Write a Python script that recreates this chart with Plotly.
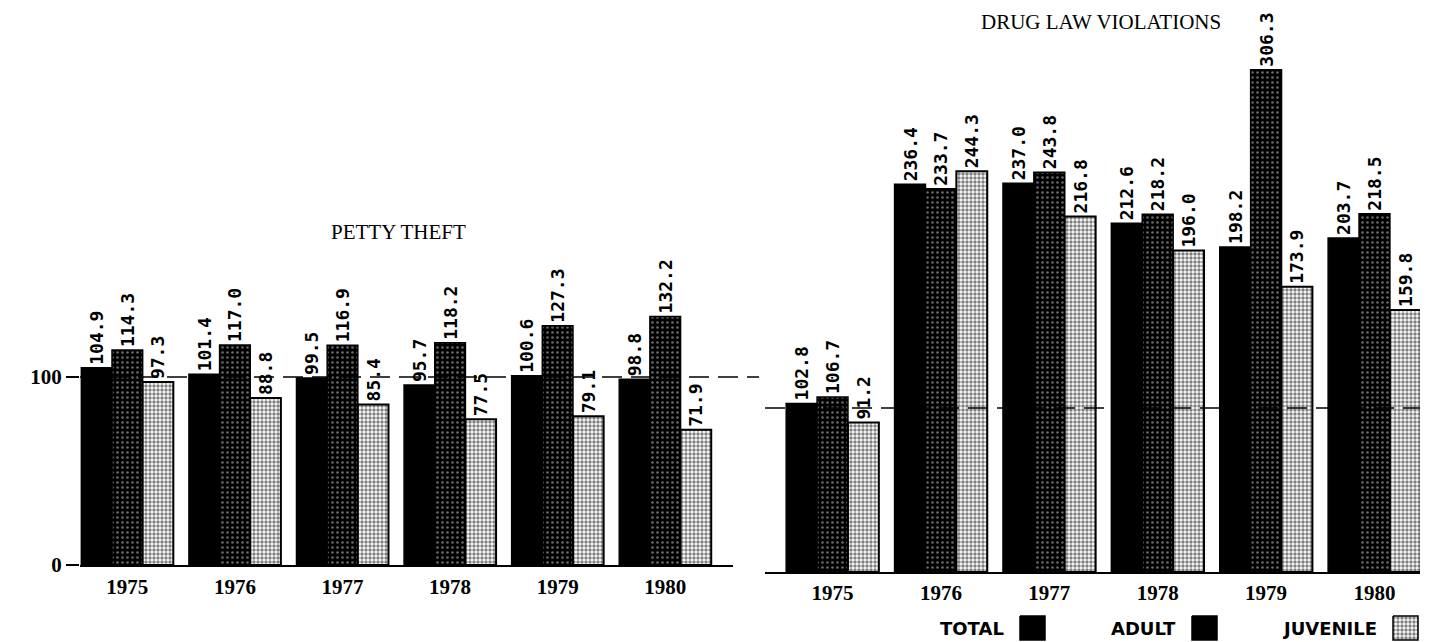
import plotly.graph_objects as go

# Index values by year (base = 100)
years = ["1975", "1976", "1977", "1978", "1979", "1980"]

petty_total = [104.9, 101.4, 99.5, 95.7, 100.6, 98.8]
petty_adult = [114.3, 117.0, 116.9, 118.2, 127.3, 132.2]
petty_juvenile = [97.3, 88.8, 85.4, 77.5, 79.1, 71.9]

drug_total = [102.8, 236.4, 237.0, 212.6, 198.2, 203.7]
drug_adult = [106.7, 233.7, 243.8, 218.2, 306.3, 218.5]
drug_juvenile = [91.2, 244.3, 216.8, 196.0, 173.9, 159.8]

series_names = ["TOTAL", "ADULT", "JUVENILE"]
panel_titles = ["PETTY THEFT", "DRUG LAW VIOLATIONS"]
y_ticks = [0, 100]
baseline_value = 100

W, H = 1437, 642
LABEL_FONT = dict(family="DejaVu Sans Mono", size=18, color="black", weight="bold")
SERIF_BOLD = dict(family="Liberation Serif", size=21, color="black", weight="bold")

juvenile_pattern = dict(shape=".", fgcolor="black", bgcolor="white", size=4, solidity=0.58)
styles = {
    "TOTAL": dict(color="black", line=dict(color="black", width=1.5)),
    "ADULT": dict(color="black", line=dict(color="black", width=1.5),
                  pattern=dict(shape=".", fgcolor="#cfcfcf", size=5, solidity=0.22)),
    "JUVENILE": dict(color="white", line=dict(color="black", width=2),
                     pattern=juvenile_pattern),
}

fig = go.Figure()

panels = [
    ("x", "y", [petty_total, petty_adult, petty_juvenile]),
    ("x2", "y2", [drug_total, drug_adult, drug_juvenile]),
]
for xa, ya, values in panels:
    for name, vals in zip(series_names, values):
        fig.add_trace(go.Bar(
            x=years, y=vals, name=name, xaxis=xa, yaxis=ya,
            offsetgroup=name, marker=styles[name],
            texttemplate="%{y:.1f}", textposition="outside", textangle=-90,
            textfont=LABEL_FONT, cliponaxis=False, constraintext="none",
            showlegend=False, hoverinfo="skip",
        ))

# Legend swatches drawn on a pixel-space axis pair covering the whole page
legend_items = [
    ("TOTAL", 1020, 1045),
    ("ADULT", 1192, 1217),
    ("JUVENILE", 1393, 1418),
]
sw_top, sw_bot = 616, 640
for name, x0, x1 in legend_items:
    kw = dict(fillcolor=styles[name]["color"])
    if name == "JUVENILE":
        kw["fillpattern"] = juvenile_pattern
    fig.add_trace(go.Scatter(
        x=[x0, x1, x1, x0, x0], y=[sw_top, sw_top, sw_bot, sw_bot, sw_top],
        mode="lines", fill="toself", line=dict(color="black", width=1.5),
        xaxis="x3", yaxis="y3", showlegend=False, hoverinfo="skip", **kw,
    ))

title_font = dict(family="Liberation Serif", size=21, color="black")
annotations = [
    dict(text=panel_titles[0], x=398 / W, y=1 - 232 / H, xref="paper", yref="paper",
         xanchor="center", yanchor="middle", showarrow=False, font=title_font),
    dict(text=panel_titles[1], x=1101 / W, y=1 - 22 / H, xref="paper", yref="paper",
         xanchor="center", yanchor="middle", showarrow=False, font=title_font),
]
for name, x0, _ in legend_items:
    annotations.append(dict(
        text=name, x=(x0 - 14) / W, y=1 - 628 / H, xref="paper", yref="paper",
        xanchor="right", yanchor="middle", showarrow=False,
        font=dict(family="DejaVu Sans", size=18, color="black", weight="bold"),
    ))

shapes = [
    dict(type="line", xref="x domain", yref="y", x0=0, x1=1.04,
         y0=baseline_value, y1=baseline_value, layer="above",
         line=dict(color="black", width=1.6, dash="20px,9px")),
    dict(type="line", xref="x2 domain", yref="y2", x0=0, x1=1,
         y0=baseline_value, y1=baseline_value, layer="above",
         line=dict(color="black", width=1.6, dash="20px,9px")),
]

fig.update_layout(
    width=W, height=H,
    margin=dict(l=0, r=0, t=0, b=0, autoexpand=False),
    paper_bgcolor="white", plot_bgcolor="rgba(0,0,0,0)",
    barmode="group", bargap=0.145, bargroupgap=0,
    annotations=annotations, shapes=shapes,
    xaxis=dict(domain=[80 / W, 733 / W], range=[-0.44, 5.63], anchor="y",
               showline=True, linecolor="black", linewidth=2, ticks="",
               showgrid=False, zeroline=False, tickfont=SERIF_BOLD,
               ticklabelstandoff=2, automargin=False, fixedrange=True),
    yaxis=dict(domain=[77 / H, 1], range=[0, 565 / 1.88], anchor="x",
               tickvals=y_ticks, ticktext=[str(v) for v in y_ticks],
               ticks="outside", ticklen=13, tickwidth=2, tickcolor="black",
               showline=False, showgrid=False, zeroline=False,
               tickfont=SERIF_BOLD, automargin=False, fixedrange=True),
    xaxis2=dict(domain=[765 / W, 1420 / W], range=[-0.623, 5.42], anchor="y2",
                showline=True, linecolor="black", linewidth=2, ticks="",
                showgrid=False, zeroline=False, tickfont=SERIF_BOLD,
                ticklabelstandoff=1, automargin=False, fixedrange=True),
    yaxis2=dict(domain=[70 / H, 1], range=[0, 572 / 1.64], anchor="x2",
                visible=False, automargin=False, fixedrange=True),
    xaxis3=dict(domain=[0, 1], range=[0, W], anchor="y3", visible=False,
                automargin=False, fixedrange=True),
    yaxis3=dict(domain=[0, 1], range=[H, 0], anchor="x3", visible=False,
                automargin=False, fixedrange=True),
)

fig.write_html("out.html")
